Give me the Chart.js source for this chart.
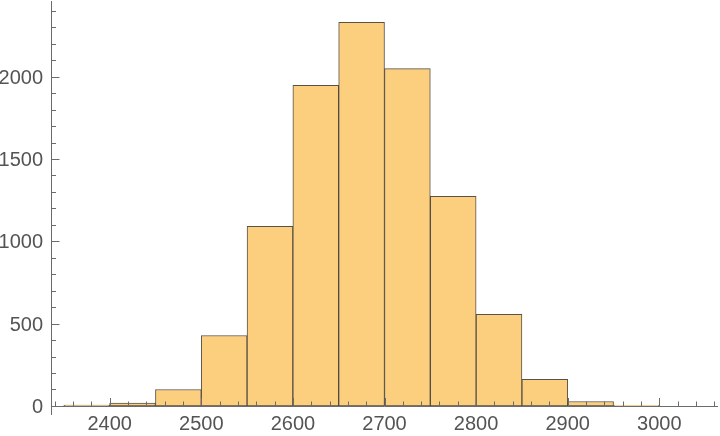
<!DOCTYPE html>
<html>
<head>
<meta charset="utf-8">
<script src="https://cdn.jsdelivr.net/npm/chart.js@4"></script>
<style>
  html, body { margin: 0; padding: 0; background: #fff; }
  #wrap { width: 720px; height: 436px; }
</style>
</head>
<body>
<div id="wrap"><canvas id="histChart" width="720" height="436"></canvas></div>
<script>
// histogram bins (left edge of each bin, width 50) and counts
const binStarts = [2350, 2400, 2450, 2500, 2550, 2600, 2650, 2700, 2750, 2800, 2850, 2900, 2950];
const binCounts = [5, 17, 100, 428, 1091, 1948, 2331, 2049, 1273, 556, 161, 27, 4];
const binWidth = 50;

// axis ticks
const xTickLabels = [2400, 2500, 2600, 2700, 2800, 2900, 3000];
const yTickLabels = [0, 500, 1000, 1500, 2000];

const axisColor = '#6b6b6b';
const labelColor = '#545454';
const labelFont = '20px "Liberation Sans", Arial, sans-serif';

// Mathematica-like axes: lines, inward ticks, labels
const axesPlugin = {
    id: 'mmaAxes',
    afterDraw(chart) {
        const ctx = chart.ctx;
        const xs = chart.scales.x, ys = chart.scales.y;
        const area = chart.chartArea;
        const y0 = ys.getPixelForValue(0);
        const xl = area.left + 0.5;

        ctx.save();
        ctx.strokeStyle = axisColor;
        ctx.lineWidth = 1;

        // axis lines
        ctx.beginPath();
        ctx.moveTo(area.left, Math.round(y0) + 0.5);
        ctx.lineTo(area.right, Math.round(y0) + 0.5);
        ctx.moveTo(xl, area.top);
        ctx.lineTo(xl, area.bottom);
        ctx.stroke();

        // x ticks: minor every 20, major every 100
        ctx.beginPath();
        for (let v = 2340; v <= 3060; v += 20) {
            const px = Math.round(xs.getPixelForValue(v)) + 0.5;
            const len = (v % 100 === 0) ? 8 : 4.5;
            ctx.moveTo(px, Math.round(y0));
            ctx.lineTo(px, Math.round(y0) - len);
        }
        // y ticks: minor every 100, major every 500
        for (let v = 100; v <= 2400; v += 100) {
            const py = Math.round(ys.getPixelForValue(v)) + 0.5;
            const len = (v % 500 === 0) ? 8 : 4.5;
            ctx.moveTo(xl, py);
            ctx.lineTo(xl + len, py);
        }
        const p0 = Math.round(y0) + 0.5;
        ctx.moveTo(xl, p0);
        ctx.lineTo(xl + 8, p0);
        ctx.stroke();

        // labels
        ctx.fillStyle = labelColor;
        ctx.font = labelFont;
        ctx.textAlign = 'center';
        ctx.textBaseline = 'alphabetic';
        xTickLabels.forEach(v => {
            ctx.fillText(String(v), xs.getPixelForValue(v), y0 + 24);
        });
        ctx.textAlign = 'right';
        yTickLabels.forEach(v => {
            ctx.fillText(String(v), area.left - 8, ys.getPixelForValue(v) + 7);
        });
        ctx.restore();
    }
};

const ctx = document.getElementById('histChart').getContext('2d');
new Chart(ctx, {
    type: 'bar',
    data: {
        datasets: [{
            data: binStarts.map((s, i) => ({ x: s + binWidth / 2, y: binCounts[i] })),
            backgroundColor: '#fccf7f',
            borderColor: 'rgba(70, 62, 52, 0.9)',
            borderWidth: 1,
            borderSkipped: false,
            barPercentage: 1,
            categoryPercentage: 1,
            grouped: false
        }]
    },
    options: {
        responsive: false,
        animation: false,
        devicePixelRatio: 1,
        layout: { padding: { left: 51, top: 1, right: 2, bottom: 21 } },
        plugins: { legend: { display: false }, tooltip: { enabled: false } },
        scales: {
            x: { type: 'linear', min: 2336, max: 3064, offset: false, display: false },
            y: { type: 'linear', min: -55, max: 2460, display: false }
        }
    },
    plugins: [axesPlugin]
});
</script>
</body>
</html>
